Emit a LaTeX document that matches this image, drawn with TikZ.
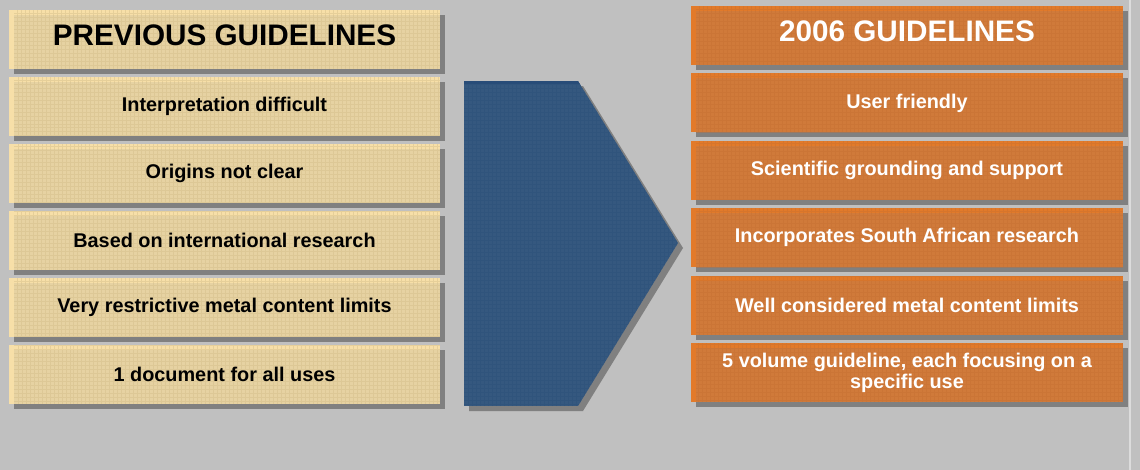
\documentclass[tikz,border=0pt]{standalone}
\usepackage{fontspec}
\setmainfont{Liberation Sans}
\usetikzlibrary{shadows}

\definecolor{slide}{HTML}{C0C0C0}
\definecolor{shadowgrey}{HTML}{808080}
\definecolor{oldlight}{HTML}{F7DFA8}
\definecolor{oldface}{HTML}{E6D2A2}
\definecolor{oldgrid}{HTML}{D6C08C}
\definecolor{newlight}{HTML}{E27A2A}
\definecolor{newface}{HTML}{D07A3A}
\definecolor{newgrid}{HTML}{C46E30}
\definecolor{arrowblue}{HTML}{35587F}
\definecolor{arrowtop}{HTML}{284C78}
\definecolor{edgeline}{HTML}{DCDCDC}

\tikzset{
  box/.style={minimum height=1.18cm, inner sep=0pt, align=center,
    font=\fontsize{11.3}{12}\selectfont\bfseries,
    drop shadow={shadow xshift=0.1cm, shadow yshift=-0.1cm, fill=shadowgrey, opacity=1}},
  oldbox/.style={box, minimum width=8.62cm, fill=oldlight, text=black,
    path picture={
      \fill[oldface] ([xshift=0.1cm,yshift=-0.1cm]path picture bounding box.north west)
        rectangle (path picture bounding box.south east);
      \draw[oldgrid, opacity=0.5, line width=0.15pt, step=0.08cm]
        ([xshift=0.1cm]path picture bounding box.south west) grid (path picture bounding box.north east);}},
  newbox/.style={box, minimum width=8.64cm, fill=newlight, text=white,
    path picture={
      \fill[newface] ([xshift=0.1cm,yshift=-0.1cm]path picture bounding box.north west)
        rectangle (path picture bounding box.south east);
      \draw[newgrid, opacity=0.4, line width=0.15pt, step=0.08cm]
        ([xshift=0.1cm]path picture bounding box.south west) grid (path picture bounding box.north east);}},
  titlebox/.style={font=\fontsize{16.9}{20}\selectfont\bfseries, text depth=0.18cm}
}

\begin{document}
\begin{tikzpicture}[x=0.02cm,y=-0.02cm]
  % slide background
  \fill[slide] (0,0) rectangle (1140,470);
  \useasboundingbox (0,0) rectangle (1140,470);
  \draw[edgeline, line width=0.04cm] (1130,0) -- (1130,470);

  % left column
  \node[oldbox, titlebox] (oldtitle) at (224.5,39.5) {PREVIOUS GUIDELINES};
  \foreach \txt [count=\i] in {Interpretation difficult, Origins not clear,
      Based on international research, Very restrictive metal content limits,
      1 document for all uses}
    \node[oldbox] (old\i) at (224.5,39.5+67*\i) {\txt};

  % big arrow in the middle
  \fill[shadowgrey] (469,86) -- (583,86) -- (683,248) -- (583,411) -- (469,411) -- cycle;
  \begin{scope}
    \clip (464,81) -- (578,81) -- (678,243) -- (578,406) -- (464,406) -- cycle;
    \fill[arrowblue] (464,81) rectangle (680,406);
    \draw[arrowtop!60!arrowblue, opacity=0.5, line width=0.15pt, step=0.08cm]
      (464,81) grid (680,406);
    \fill[arrowtop] (464,81) rectangle (680,84);
  \end{scope}

  % right column
  \node[newbox, titlebox] (newtitle) at (907,35.5) {2006 GUIDELINES};
  \foreach \txt [count=\i] in {User friendly, Scientific grounding and support,
      Incorporates South African research, Well considered metal content limits,
      {5 volume guideline, each focusing on a\\specific use}}
    \node[newbox] (new\i) at (907,35.5+67.4*\i) {\txt};
\end{tikzpicture}
\end{document}
